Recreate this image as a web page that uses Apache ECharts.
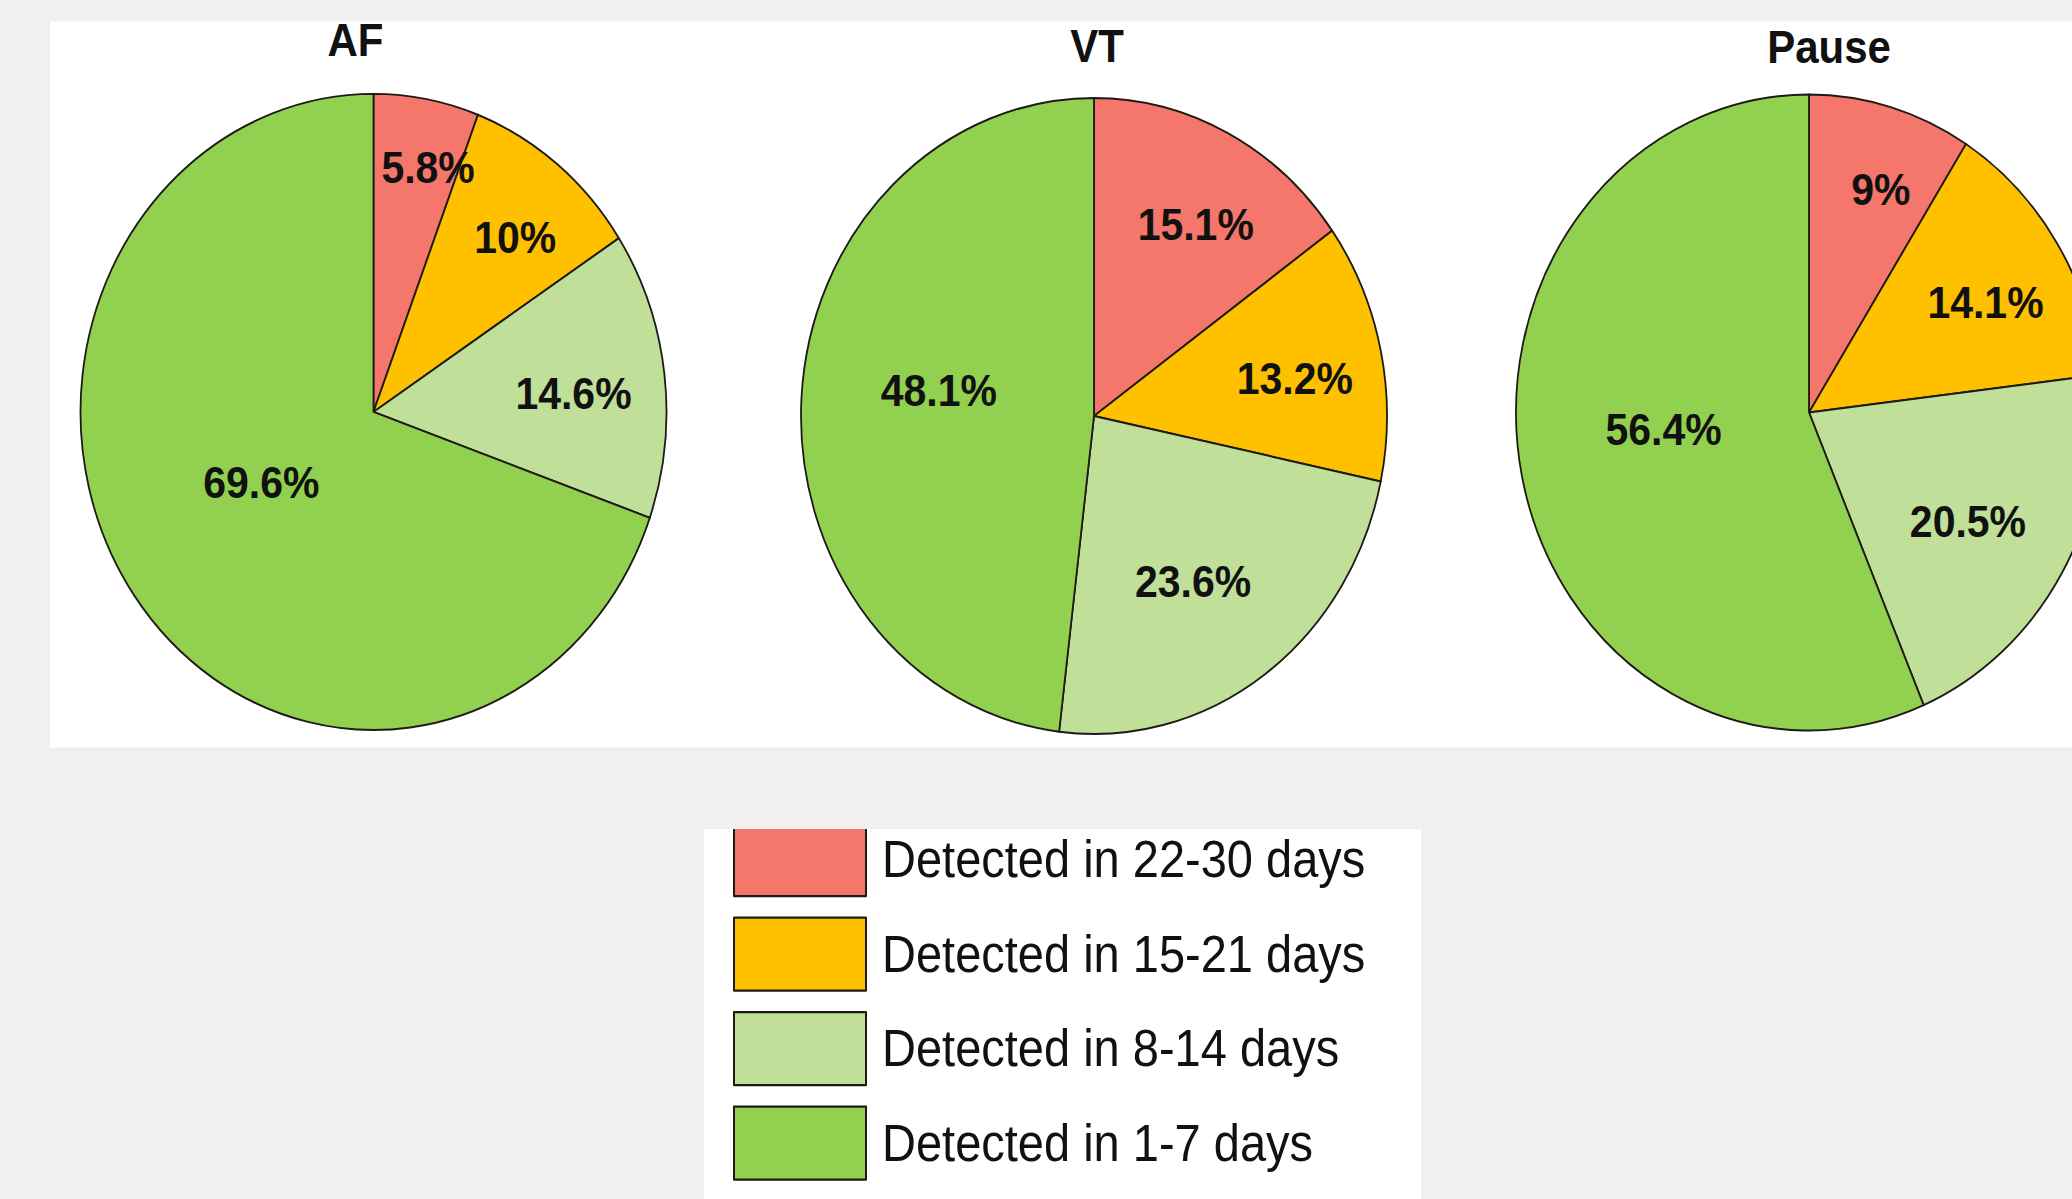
<!DOCTYPE html>
<html>
<head>
<meta charset="utf-8">
<title>Detection time by arrhythmia type</title>
<script src="https://cdn.jsdelivr.net/npm/echarts@6/dist/echarts.min.js"></script>
<style>
  html, body { margin: 0; padding: 0; background: #f0f0f0; }
  body { width: 2072px; height: 1199px; position: relative; }
  /* the figure is drawn slightly taller than wide, so the pies come out as upright ellipses */
  #chart { position: absolute; left: 0; top: 0; width: 2072px; height: 1105px; transform: scaleY(1.0855); transform-origin: 0 0; }
</style>
</head>
<body>
<div id="chart"></div>
<script>
// Share of events by the day range in which they were first detected
const categories = [
  'Detected in 22-30 days',
  'Detected in 15-21 days',
  'Detected in 8-14 days',
  'Detected in 1-7 days'
];
const panelTitles = ['AF', 'VT', 'Pause'];
const afValues = [5.8, 10, 14.6, 69.6];
const vtValues = [15.1, 13.2, 23.6, 48.1];
const pauseValues = [9, 14.1, 20.5, 56.4];
const seriesValues = [afValues, vtValues, pauseValues];

const colors = ['#f5766a', '#ffc000', '#c0e09a', '#92d050'];
const FONT = '"Liberation Sans", Arial, Helvetica, sans-serif';

// Pie geometry (in the unstretched drawing space)
const R = 293;
const centers = [[373.5, 379.5], [1094, 383.2], [1809, 380]];
const titlePos = [[355.5, 36.6], [1097, 42.4], [1829, 43]];

// Larger slices have room closer to the centre, thin ones need their label further out;
// labels sit a little clockwise of each slice's middle and slightly raised
function labelRadiusFactor(v) {
  return 0.70 - 0.0037 * v + 0.55 / v;
}
const LABEL_TURN = 3.5 * Math.PI / 180;
const LABEL_RAISE = 5;

function makeLabelLayout(si) {
  return function (p) {
    const vals = seriesValues[si];
    const total = vals.reduce((a, b) => a + b, 0);
    let before = 0;
    for (let i = 0; i < p.dataIndex; i++) before += vals[i];
    const v = vals[p.dataIndex];
    const ang = 2 * Math.PI * (before + v / 2) / total + LABEL_TURN;
    const f = labelRadiusFactor(v);
    const c = centers[si];
    return {
      x: c[0] + f * R * Math.sin(ang),
      y: c[1] - f * R * Math.cos(ang) - LABEL_RAISE,
      align: 'center',
      verticalAlign: 'middle'
    };
  };
}

const series = seriesValues.map((vals, si) => ({
  type: 'pie',
  name: panelTitles[si],
  center: centers[si],
  radius: R,
  startAngle: 90,
  clockwise: true,
  avoidLabelOverlap: false,
  silent: true,
  animation: false,
  emphasis: { disabled: true },
  itemStyle: { borderColor: '#1e1a16', borderWidth: 1.8 },
  label: {
    show: true,
    position: 'inside',
    formatter: p => p.value + '%',
    fontFamily: FONT,
    fontWeight: 'bold',
    fontSize: 41,
    color: '#111'
  },
  labelLine: { show: false },
  labelLayout: makeLabelLayout(si),
  data: categories.map((name, i) => ({ name: name, value: vals[i] }))
}));

const graphics = [
  // white panel behind the pies
  { type: 'rect', shape: { x: 50, y: 20, width: 2030, height: 668.6 }, style: { fill: '#ffffff' }, silent: true },
  // white panel behind the legend
  { type: 'rect', shape: { x: 704, y: 763.7, width: 717, height: 400 }, style: { fill: '#ffffff' }, silent: true },
  // the legend panel edge trims the top of the first key
  { type: 'rect', z: 100, shape: { x: 700, y: 700, width: 730, height: 63.7 }, style: { fill: '#f0f0f0' }, silent: true }
].concat(panelTitles.map((t, i) => ({
  type: 'text',
  x: titlePos[i][0],
  y: titlePos[i][1],
  silent: true,
  style: {
    text: t,
    fontFamily: FONT,
    fontWeight: 'bold',
    fontSize: 42,
    fill: '#111',
    align: 'center',
    verticalAlign: 'middle'
  }
})));

const chart = echarts.init(document.getElementById('chart'), null, { renderer: 'svg' });
chart.setOption({
  backgroundColor: '#f0f0f0',
  animation: false,
  color: colors,
  graphic: graphics,
  legend: {
    data: categories,
    orient: 'vertical',
    left: 733,
    top: 757.3,
    height: 600,
    padding: 0,
    itemWidth: 132,
    itemHeight: 67.25,
    itemGap: 17.8,
    icon: 'rect',
    selectedMode: false,
    itemStyle: { borderColor: '#1e1a16', borderWidth: 2 },
    textStyle: {
      fontFamily: FONT,
      fontSize: 47,
      color: '#111',
      padding: [0, 0, 0, 11]
    }
  },
  series: series
});
</script>
</body>
</html>
